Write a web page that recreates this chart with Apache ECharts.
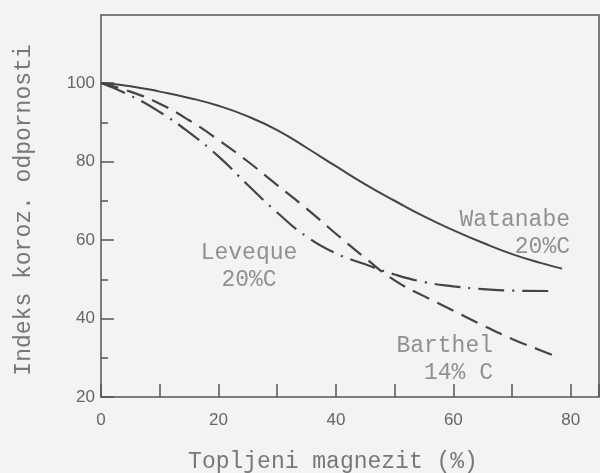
<!DOCTYPE html>
<html>
<head>
<meta charset="utf-8">
<script src="https://cdn.jsdelivr.net/npm/echarts@6/dist/echarts.min.js"></script>
<style>
html,body{margin:0;padding:0;background:#f3f3f3;}
#c{width:600px;height:473px;}
</style>
</head>
<body>
<div id="c"></div>
<script>
// ---- data ----
const watanabeX = [0, 5, 10, 15, 20, 25, 30, 35, 40, 45, 50, 55, 60, 65, 70, 75, 78.5];
const watanabeY = [100, 99.2, 97.8, 96.2, 94.2, 91.5, 88, 83.5, 78.8, 74.2, 70.0, 66.0, 62.5, 59.3, 56.4, 54.1, 52.7];

const barthelX = [0, 5, 10, 15, 20, 25, 30, 35, 40, 45, 50, 55, 60, 65, 70, 75, 77.7];
const barthelY = [100, 97.8, 94.7, 90.5, 85.5, 80, 74, 68, 61.6, 55.4, 49.7, 45.7, 42, 38.3, 34.8, 31.8, 30.2];

const levequeX = [0, 5, 10, 15, 20, 25, 30, 35, 40, 45, 50, 55, 60, 65, 70, 77.5];
const levequeY = [100, 96.8, 92.6, 87.4, 81.3, 74, 67, 60.9, 56.6, 53.8, 51.2, 49.3, 48.2, 47.5, 47.1, 47];

const xTickLabels = [0, 20, 40, 60, 80];
const yTickLabels = [20, 40, 60, 80, 100];

const annotations = [
  { x: 79.86, y: 61.8, text: 'Watanabe\n20%C', align: 'right' },
  { x: 25.2, y: 53.3, text: 'Leveque\n20%C', align: 'center' },
  { x: 66.75, y: 29.6, text: 'Barthel\n14% C', align: 'right' }
];

const xName = 'Topljeni magnezit (%)';
const yName = 'Indeks koroz. odpornosti';

function pairs(xs, ys) { return xs.map((x, i) => [x, ys[i]]); }

const axisColor = '#555';
const lineColor = '#444';
const monoFont = 'Liberation Mono';
const textColor = '#777';

const chart = echarts.init(document.getElementById('c'), null, { renderer: 'canvas' });
chart.setOption({
  backgroundColor: '#f3f3f3',
  animation: false,
  grid: [
    { left: 101, top: 15, width: 498, bottom: 76, show: true, backgroundColor: 'transparent',
      borderColor: axisColor, borderWidth: 1.5, containLabel: false, outerBoundsMode: 'none' },
    { left: 101, top: 83, width: 498, bottom: 76, containLabel: false, outerBoundsMode: 'none' }
  ],
  xAxis: [
    { gridIndex: 0, type: 'value', min: 0, max: 1, show: false },
    { gridIndex: 1, type: 'value', min: 0, max: 84.8, interval: 10,
      axisLine: { show: false },
      axisTick: { show: true, inside: true, length: 13, lineStyle: { color: axisColor, width: 1.5 } },
      splitLine: { show: false },
      axisLabel: { margin: 15, color: '#666', fontFamily: 'Liberation Sans', fontSize: 17,
        formatter: v => (xTickLabels.indexOf(v) >= 0 ? String(v) : '') },
      name: xName, nameLocation: 'middle', nameGap: 53,
      nameTextStyle: { fontFamily: monoFont, fontSize: 23, color: textColor, padding: [0, 34, 0, 0] }
    }
  ],
  yAxis: [
    { gridIndex: 0, type: 'value', min: 0, max: 1,
      axisLine: { show: false }, axisTick: { show: false }, axisLabel: { show: false },
      splitLine: { show: false },
      name: yName, nameLocation: 'middle', nameGap: 66,
      nameTextStyle: { fontFamily: monoFont, fontSize: 23, color: textColor, padding: [0, 8, 0, 0] }
    },
    { gridIndex: 1, type: 'value', min: 20, max: 100, interval: 20,
      axisLine: { show: false },
      axisTick: { show: true, inside: true, length: 13, lineStyle: { color: axisColor, width: 1.5 } },
      minorTick: { show: true, splitNumber: 2, length: 7, lineStyle: { color: axisColor, width: 1.5 } },
      splitLine: { show: false }, minorSplitLine: { show: false },
      axisLabel: { margin: 6, color: '#666', fontFamily: 'Liberation Sans', fontSize: 17,
        formatter: v => (yTickLabels.indexOf(v) >= 0 ? String(v) : '') }
    }
  ],
  series: [
    { name: 'Watanabe 20%C', type: 'line', xAxisIndex: 1, yAxisIndex: 1, smooth: true, showSymbol: false,
      data: pairs(watanabeX, watanabeY),
      lineStyle: { color: lineColor, width: 2, type: 'solid' } },
    { name: 'Barthel 14% C', type: 'line', xAxisIndex: 1, yAxisIndex: 1, smooth: true, showSymbol: false,
      data: pairs(barthelX, barthelY),
      lineStyle: { color: lineColor, width: 2.2, type: [18, 9] } },
    { name: 'Leveque 20%C', type: 'line', xAxisIndex: 1, yAxisIndex: 1, smooth: true, showSymbol: false,
      data: pairs(levequeX, levequeY),
      lineStyle: { color: lineColor, width: 2.2, type: [26, 8, 2, 8] } },
    { name: 'labels', type: 'scatter', xAxisIndex: 1, yAxisIndex: 1, symbolSize: 0, silent: true,
      data: annotations.map(a => ({
        value: [a.x, a.y],
        label: { show: true, position: 'inside', formatter: a.text, align: a.align,
          verticalAlign: 'middle', fontFamily: monoFont, fontSize: 23, lineHeight: 27, color: textColor }
      }))
    }
  ]
});
</script>
</body>
</html>
